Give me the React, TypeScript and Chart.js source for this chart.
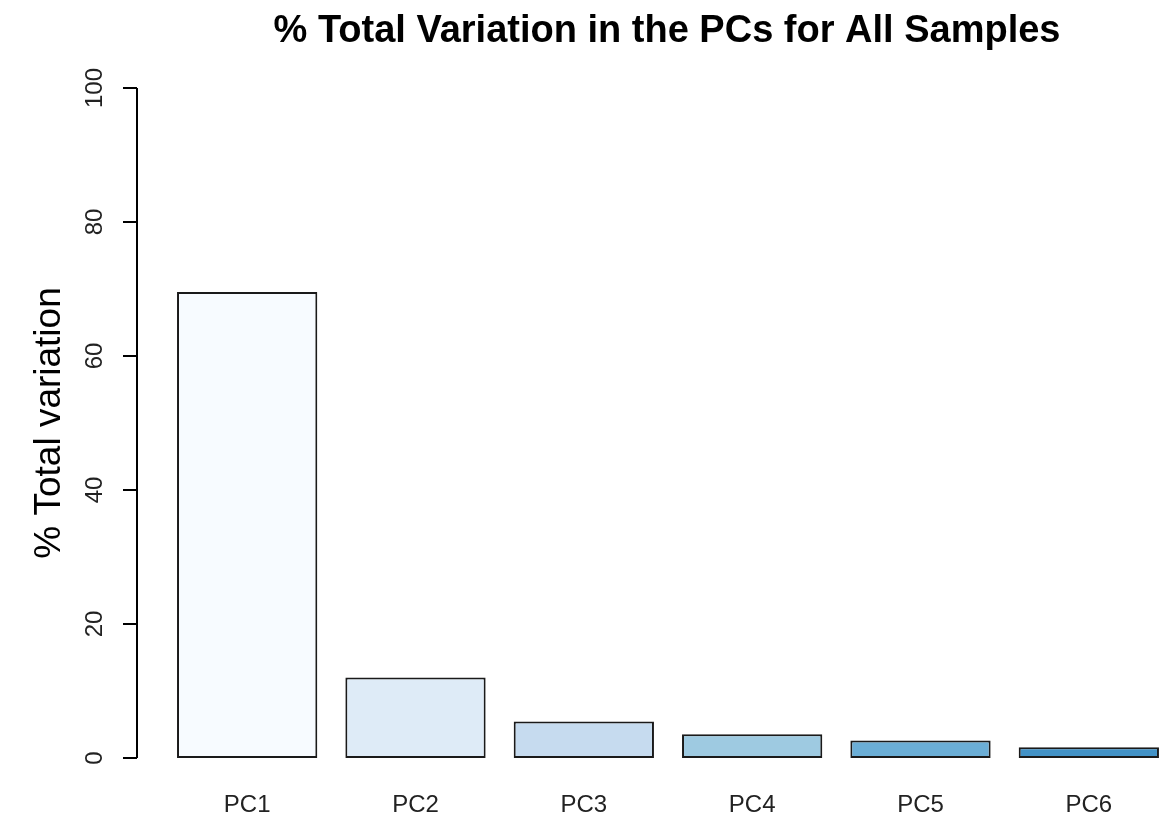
import React, { useEffect, useRef } from "react";
import { Chart, registerables } from "chart.js";

Chart.register(...registerables);

const TITLE = "% Total Variation in the PCs for All Samples";
const Y_LABEL = "% Total variation";
const CATEGORIES = ["PC1", "PC2", "PC3", "PC4", "PC5", "PC6"];
const VALUES = [69.55, 12.0, 5.45, 3.55, 2.6, 1.6];
const BAR_COLORS = ["#F7FBFF", "#DEEBF7", "#C6DBEF", "#9ECAE1", "#6BAED6", "#4292C6"];
const Y_TICKS = [0, 20, 40, 60, 80, 100];

const FONT = "'Liberation Sans', Arial, sans-serif";

const decorPlugin = {
  id: "rDecor",
  afterDraw(chart: any) {
    const ctx = chart.ctx as CanvasRenderingContext2D;
    const ys = chart.scales.y;
    const xs = chart.scales.x;
    const axisX = 137;
    ctx.save();
    // title
    ctx.fillStyle = "#000";
    ctx.font = `bold 38px ${FONT}`;
    ctx.textAlign = "center";
    ctx.textBaseline = "alphabetic";
    ctx.fillText(TITLE, 667, 42);

    // y axis
    ctx.strokeStyle = "#000";
    ctx.lineWidth = 2;
    const y0 = ys.getPixelForValue(Y_TICKS[0]);
    const y1 = ys.getPixelForValue(Y_TICKS[Y_TICKS.length - 1]);
    ctx.beginPath();
    ctx.moveTo(axisX, y0);
    ctx.lineTo(axisX, y1);
    ctx.stroke();
    ctx.font = `24px ${FONT}`;
    ctx.fillStyle = "#222";
    for (const t of Y_TICKS) {
      const py = ys.getPixelForValue(t);
      ctx.beginPath();
      ctx.moveTo(axisX, py);
      ctx.lineTo(axisX - 14, py);
      ctx.stroke();
      ctx.save();
      ctx.translate(102, py);
      ctx.rotate(-Math.PI / 2);
      ctx.textAlign = "center";
      ctx.textBaseline = "alphabetic";
      ctx.fillText(String(t), 0, 0);
      ctx.restore();
    }

    // y label
    ctx.save();
    ctx.fillStyle = "#000";
    ctx.font = `37px ${FONT}`;
    ctx.translate(60, (y0 + y1) / 2);
    ctx.rotate(-Math.PI / 2);
    ctx.textAlign = "center";
    ctx.textBaseline = "alphabetic";
    ctx.fillText(Y_LABEL, 0, 0);
    ctx.restore();

    // x labels
    ctx.fillStyle = "#222";
    ctx.font = `24px ${FONT}`;
    ctx.textAlign = "center";
    ctx.textBaseline = "alphabetic";
    CATEGORIES.forEach((c, i) => {
      ctx.fillText(c, xs.getPixelForValue(i), 812);
    });
    ctx.restore();
  },
};

export default function App() {
  const ref = useRef<HTMLCanvasElement | null>(null);
  useEffect(() => {
    if (!ref.current) return;
    const chart = new Chart(ref.current, {
      type: "bar",
      data: {
        labels: CATEGORIES,
        datasets: [
          {
            data: VALUES,
            backgroundColor: BAR_COLORS,
            borderColor: "#1a1a1a",
            borderWidth: 2,
            borderSkipped: false,
            categoryPercentage: 1,
            barPercentage: 1 / 1.2,
          },
        ],
      },
      options: {
        responsive: false,
        animation: false,
        events: [],
        layout: { padding: { left: 163, right: 1, top: 88, bottom: 66 } },
        plugins: {
          legend: { display: false },
          title: { display: false },
          tooltip: { enabled: false },
        },
        scales: {
          x: { type: "category", display: false, offset: true },
          y: { type: "linear", display: false, min: 0, max: 100 },
        },
      },
      plugins: [decorPlugin],
    });
    return () => chart.destroy();
  }, []);
  return (
    <div
      style={{
        position: "fixed",
        left: 0,
        top: 0,
        width: 1160,
        height: 824,
        overflow: "hidden",
        background: "#fff",
      }}
    >
      <canvas ref={ref} width={1174} height={824} style={{ display: "block" }} />
    </div>
  );
}
